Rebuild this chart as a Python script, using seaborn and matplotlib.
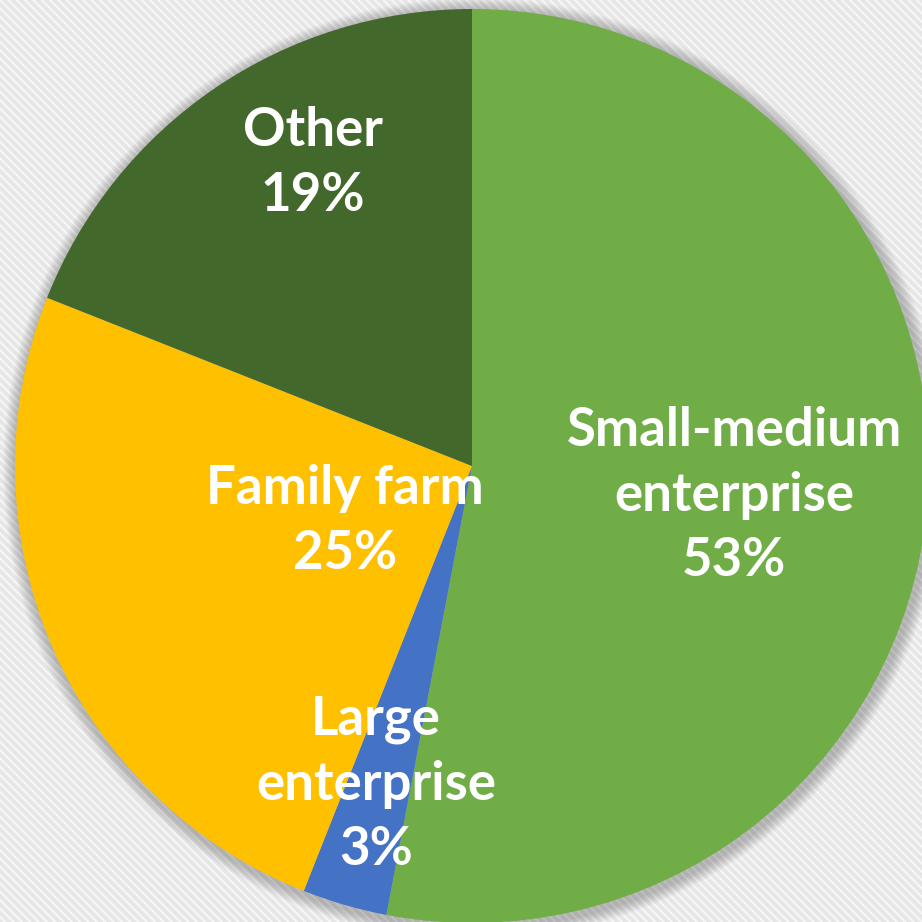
import matplotlib
matplotlib.use("Agg")
import matplotlib.pyplot as plt
import matplotlib.patches as mpatches
import seaborn as sns

categories = ["Small-medium\nenterprise", "Large\nenterprise", "Family farm", "Other"]
values = [53, 3, 25, 19]
colors = ["#70AD47", "#4472C4", "#FFC000", "#43682B"]

sns.set_style("white")
plt.rcParams['font.family'] = ['Lato', 'DejaVu Sans']
plt.rcParams['hatch.linewidth'] = 1.5
plt.rcParams['hatch.color'] = '#f7f7f7'

W = H = 922
fig = plt.figure(figsize=(9.22, 9.22), dpi=100)
ax = fig.add_axes([0, 0, 1, 1])

# striped background
bg = mpatches.Rectangle((0, 0), W, H, facecolor='#e6e6e6', edgecolor='#f7f7f7',
                        hatch='\\\\\\\\', linewidth=0, zorder=0)
ax.add_patch(bg)

cx, cy, r = 472, 922 - 466, 457

# soft shadow
for i in range(12):
    ax.add_patch(mpatches.Circle((cx + 2, cy - 3), r + 14 - i, facecolor='#000000',
                                 alpha=0.018, linewidth=0, zorder=1))

wedges, _ = ax.pie(values, colors=colors, startangle=90, counterclock=False,
                   center=(cx, cy), radius=r, frame=True,
                   wedgeprops=dict(linewidth=0, zorder=2))
ax.set_xlim(0, W)
ax.set_ylim(0, H)
ax.set_aspect('equal')
ax.axis('off')

label_pos = [(734, 495), (376, 784), (345, 521), (313, 163)]
for cat, v, (x, y) in zip(categories, values, label_pos):
    ax.text(x, H - y, f"{cat}\n{v}%", ha='center', va='center', color='white',
            fontsize=38, fontweight='bold', linespacing=1.4, zorder=5)

fig.savefig("out.png", dpi=100)
